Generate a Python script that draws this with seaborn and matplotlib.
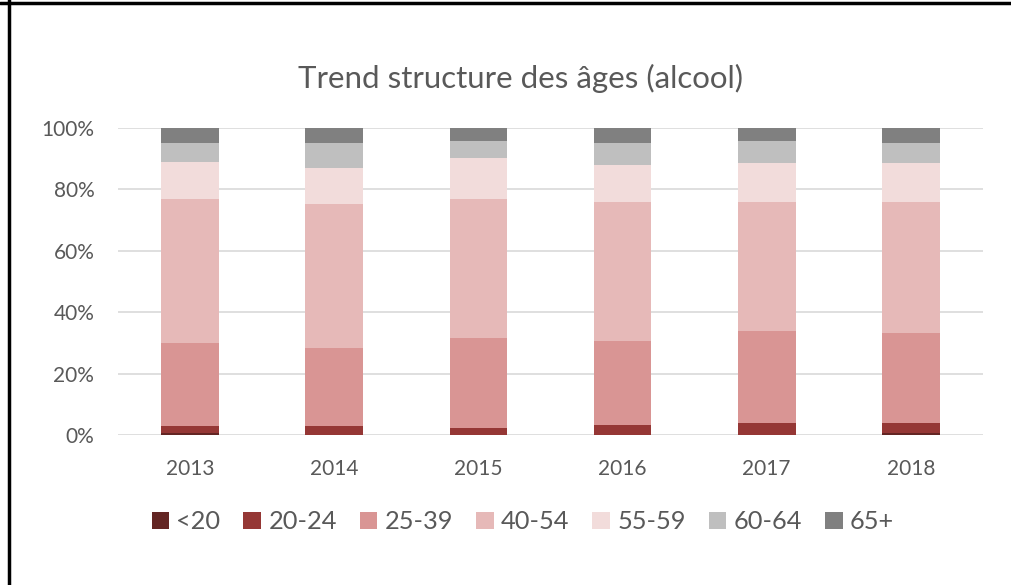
import numpy as np
import pandas as pd
import matplotlib
matplotlib.use("Agg")
import matplotlib.pyplot as plt
from matplotlib.patches import Patch
from matplotlib.lines import Line2D
from matplotlib.ticker import FuncFormatter
import seaborn as sns

# Data (share of each age band, %)
years = ["2013", "2014", "2015", "2016", "2017", "2018"]
age_groups = ["<20", "20-24", "25-39", "40-54", "55-59", "60-64", "65+"]
lt20 = [0.9, 0.2, 0.2, 0.2, 0.2, 0.9]
a20_24 = [2.3, 3.0, 2.2, 3.1, 3.8, 3.1]
a25_39 = [27.0, 25.3, 29.3, 27.5, 30.1, 29.2]
a40_54 = [46.6, 46.8, 45.1, 45.0, 41.7, 42.6]
a55_59 = [12.0, 11.8, 13.4, 12.1, 12.9, 12.9]
a60_64 = [6.3, 8.0, 5.7, 7.2, 7.2, 6.4]
a65p = [4.9, 4.9, 4.1, 4.9, 4.1, 4.9]
colors = ["#632523", "#953735", "#D99594", "#E6B9B8", "#F2DCDB", "#BFBFBF", "#808080"]

series = [lt20, a20_24, a25_39, a40_54, a55_59, a60_64, a65p]
df = pd.DataFrame(np.array(series).T, columns=age_groups)
df = df.div(df.sum(axis=1), axis=0)  # normalise to 100%
cum = df.cumsum(axis=1)
cum["year"] = years

sns.set_style("white")
plt.rcParams["font.family"] = ["Lato", "DejaVu Sans"]
text_col = "#595959"

fig = plt.figure(figsize=(10.11, 5.85), dpi=100)
ax = fig.add_axes([0.1167, 0.2556, 0.8556, 0.5256])

# stacked bars: draw cumulative totals from the top band down
for grp, col in reversed(list(zip(age_groups, colors))):
    sns.barplot(data=cum, x="year", y=grp, color=col, width=0.40,
                saturation=1, linewidth=0, ax=ax, zorder=3)

ax.set_ylim(0, 1)
ax.set_xlim(-0.5, 5.5)
ax.set_yticks(np.arange(0, 1.01, 0.2))
ax.yaxis.set_major_formatter(FuncFormatter(lambda v, p: f"{v:.0%}"))
ax.grid(axis="y", color="#D9D9D9", linewidth=1.2, zorder=0)
ax.set_axisbelow(True)
for s in ax.spines.values():
    s.set_visible(False)
ax.set_xlabel("")
ax.set_ylabel("")
ax.tick_params(axis="both", length=0, labelsize=15, colors=text_col)
ax.tick_params(axis="y", pad=17)
ax.tick_params(axis="x", pad=17)

fig.text(0.5145, 0.866, "Trend structure des âges (alcool)", ha="center", va="center",
         fontsize=22.5, color=text_col)

handles = [Patch(facecolor=c, edgecolor="none") for c in colors]
fig.legend(handles, age_groups, loc="center", bbox_to_anchor=(0.517, 0.108), ncol=7,
           frameon=False, fontsize=18.3, labelcolor=text_col, handlelength=0.7,
           handleheight=0.7, handletextpad=0.28, columnspacing=0.9)

# frame lines (top and left visible in the reference)
fig.add_artist(Line2D([0, 1], [0.9945, 0.9945], transform=fig.transFigure, color="black", lw=2.5))
fig.add_artist(Line2D([0.0085, 0.0085], [0, 1], transform=fig.transFigure, color="black", lw=2.5))

fig.savefig("out.png", dpi=100)
